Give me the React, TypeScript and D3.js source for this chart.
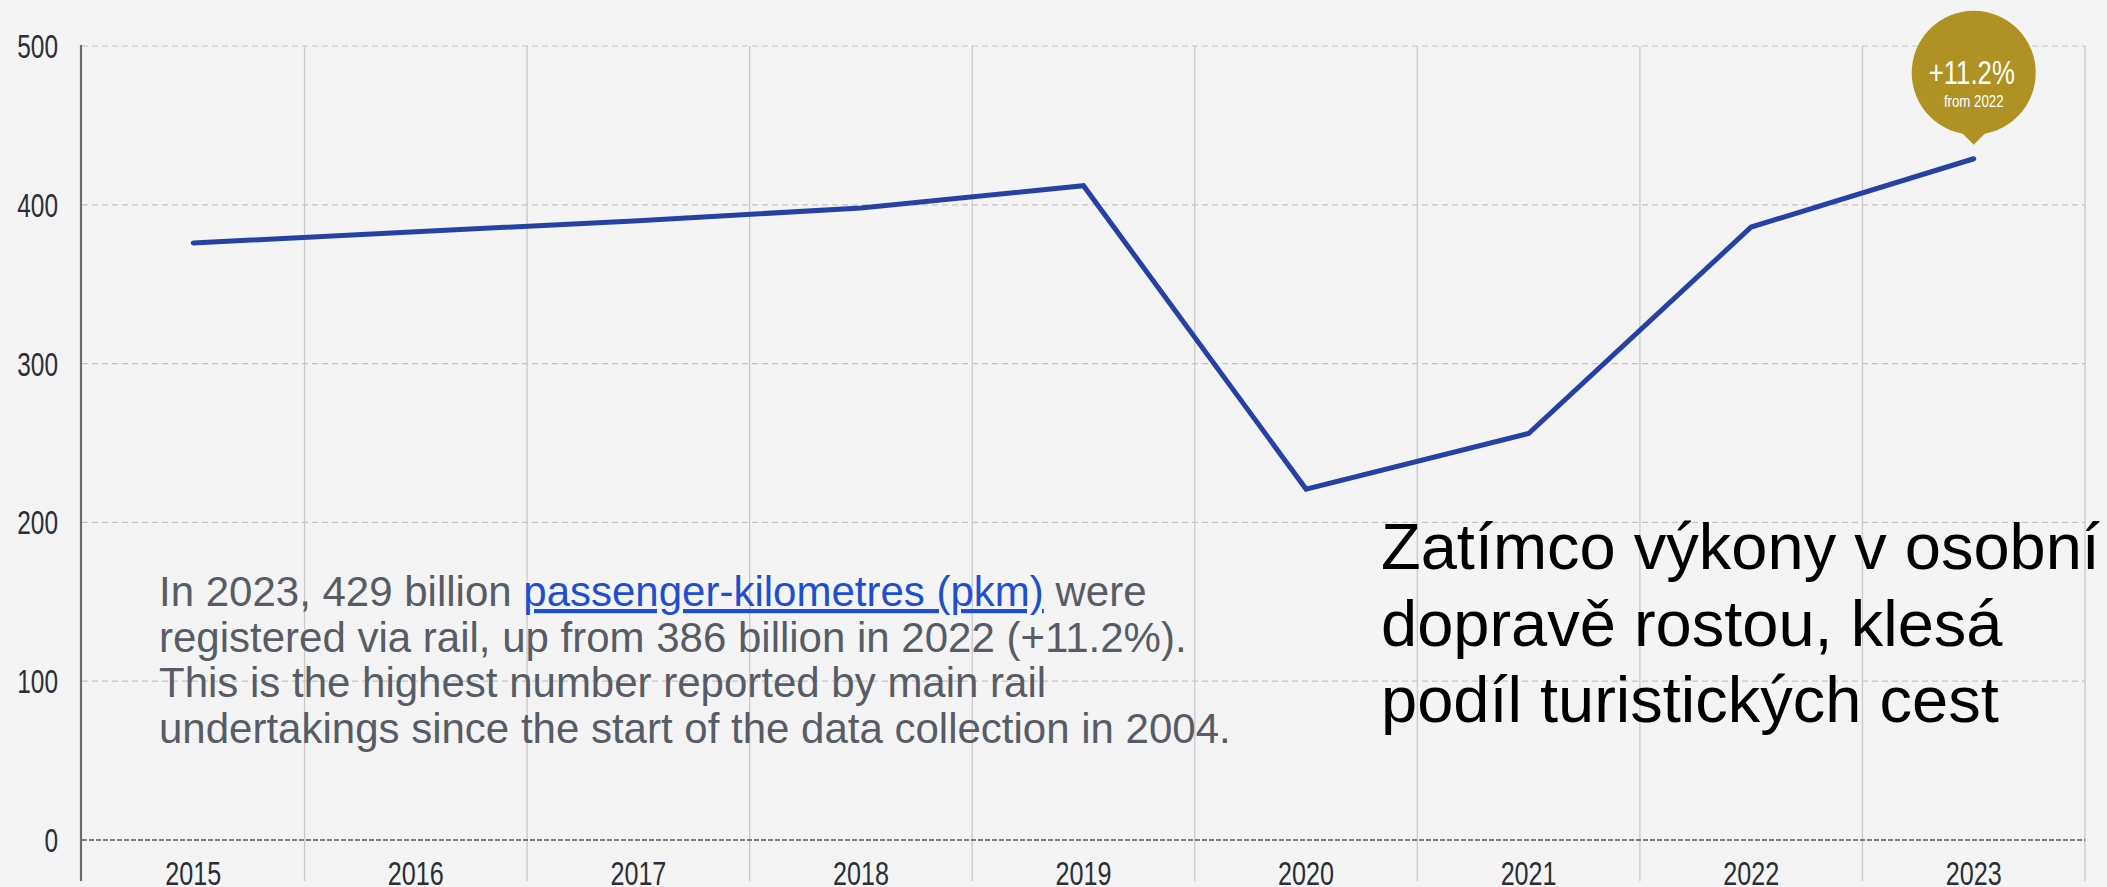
import React from 'react';
import * as d3 from 'd3';

const years = ['2015', '2016', '2017', '2018', '2019', '2020', '2021', '2022', '2023'];
const pkm = [376, 383, 390, 398, 412, 221, 256, 386, 429];
const yTicks = [0, 100, 200, 300, 400, 500];

const noteLines = [
  ['In 2023, 429 billion ', 'passenger-kilometres (pkm)', ' were'],
  ['registered via rail, up from 386 billion in 2022 (+11.2%).'],
  ['This is the highest number reported by main rail'],
  ['undertakings since the start of the data collection in 2004.'],
];
const czechLines = ['Zatímco výkony v osobní', 'dopravě rostou, klesá', 'podíl turistických cest'];

const W = 2107;
const H = 887;
const sans = '"Liberation Sans", Arial, sans-serif';

// no condensed face installed, so squeeze a regular one
function Narrow(props: { x: number; y: number; size: number; anchor: string; fill: string; sx?: number; weight?: number; children: React.ReactNode }) {
  return (
    <text
      transform={`translate(${props.x},${props.y}) scale(${props.sx ?? 0.74},1)`}
      textAnchor={props.anchor}
      fontFamily={sans}
      fontSize={props.size}
      fontWeight={props.weight ?? 400}
      fill={props.fill}
    >
      {props.children}
    </text>
  );
}

function App() {
  const x = d3.scaleBand().domain(years).range([82, 2085]);
  const y = d3.scaleLinear().domain([0, 500]).range([840, 46]);
  const line = d3
    .line<number>()
    .x((_, i) => x(years[i])! + x.bandwidth() / 2)
    .y((d) => y(d));

  // badge sits just above the last point
  const bx = x(years[8])! + x.bandwidth() / 2;
  const by = y(pkm[8]) - 14;
  const r = 62;
  const cy = by - 72;

  return (
    <svg width={W} height={H} style={{ position: 'fixed', left: 0, top: 0 }}>
      <rect width={W} height={H} fill="#f4f4f4" />

      {/* vertical band gridlines */}
      {years.map((yr) => (
        <line key={yr} x1={x(yr)! + x.bandwidth()} x2={x(yr)! + x.bandwidth()} y1={46} y2={881} stroke="#c9c9c9" strokeWidth={1.3} />
      ))}

      {/* horizontal dashed gridlines */}
      {yTicks.filter((t) => t > 0).map((t) => (
        <line key={t} x1={82} x2={2085} y1={y(t)} y2={y(t)} stroke="#c4c4c4" strokeWidth={1.2} strokeDasharray="6 4" />
      ))}
      <line x1={82} x2={2085} y1={y(0)} y2={y(0)} stroke="#555" strokeWidth={1.5} strokeDasharray="5 2" />
      <line x1={81} x2={81} y1={45} y2={881} stroke="#6a6a6a" strokeWidth={2.2} />

      {yTicks.map((t) => (
        <Narrow key={t} x={58} y={y(t) + 12} size={33} anchor="end" fill="#2a2e36">
          {t}
        </Narrow>
      ))}
      {years.map((yr) => (
        <Narrow key={yr} x={x(yr)! + x.bandwidth() / 2} y={885} size={34} anchor="middle" fill="#2a2e36">
          {yr}
        </Narrow>
      ))}

      <path d={line(pkm)!} fill="none" stroke="#2641a4" strokeWidth={5} strokeLinejoin="miter" strokeLinecap="round" />

      {/* +11.2% badge */}
      <path d={`M${bx - 16},${cy + r - 6} L${bx},${by} L${bx + 16},${cy + r - 6} Z`} fill="#b09224" />
      <circle cx={bx} cy={cy} r={r} fill="#b09224" />
      <Narrow x={bx - 2} y={cy + 11} size={33} anchor="middle" fill="#fff" sx={0.78}>
        +11.2%
      </Narrow>
      <Narrow x={bx} y={cy + 34} size={17} anchor="middle" fill="#fff" sx={0.78}>
        from 2022
      </Narrow>

      {/* annotation */}
      {noteLines.map((parts, i) => (
        <text key={i} x={159} y={606 + i * 45.6} fontFamily={sans} fontSize={42} fill="#575c66">
          {parts.map((p, j) =>
            j === 1 ? (
              <tspan key={j} fill="#1f4fd1" textDecoration="underline">{p}</tspan>
            ) : (
              <tspan key={j}>{p}</tspan>
            ),
          )}
        </text>
      ))}

      {czechLines.map((l, i) => (
        <text key={i} x={1381} y={569 + i * 76.6} fontFamily={sans} fontSize={65} fill="#000">
          {l}
        </text>
      ))}
    </svg>
  );
}

export default App;
